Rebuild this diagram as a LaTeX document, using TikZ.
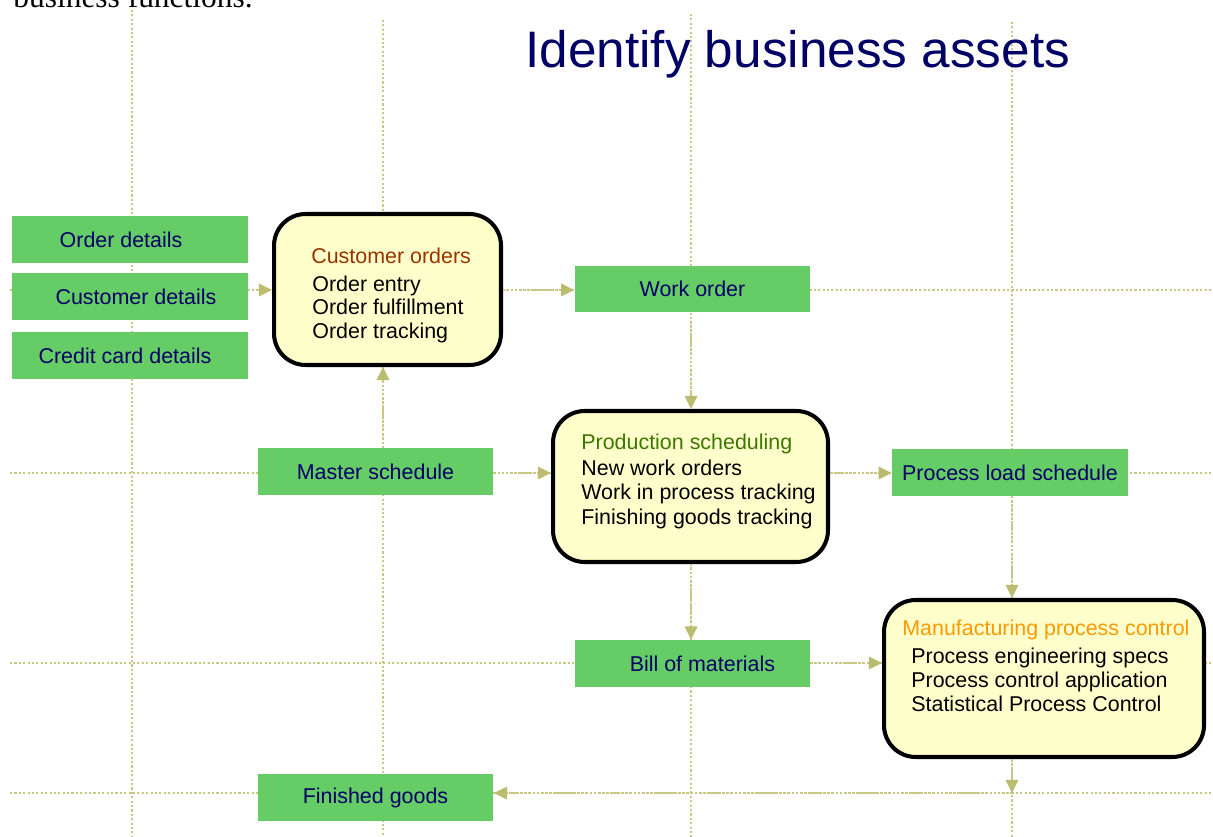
\documentclass[tikz,border=0pt]{standalone}
\usepackage{fontspec}
\setmainfont{Liberation Sans}
\newfontfamily\timesfont{Liberation Serif}
\usetikzlibrary{arrows.meta}
\definecolor{boxgreen}{RGB}{102,204,102}
\definecolor{navy}{RGB}{0,0,102}
\definecolor{paleyellow}{RGB}{255,255,204}
\definecolor{dotc}{RGB}{200,200,132}
\definecolor{arrc}{RGB}{188,188,112}
\definecolor{titlebrown}{RGB}{153,51,0}
\definecolor{titlegreen}{RGB}{60,120,0}
\definecolor{titleorange}{RGB}{255,153,0}
\begin{document}
\begin{tikzpicture}[x=0.02cm,y=-0.02cm,
  gbox/.style={fill=boxgreen, draw=none, minimum width=4.72cm, minimum height=0.94cm, inner sep=0pt, text=navy, font=\fontsize{12.2}{14}\selectfont},
  ybox/.style={fill=paleyellow, draw=black, line width=2.3pt, rounded corners=18pt, inner sep=0pt},
  ytext/.style={anchor=base west, inner sep=0pt, font=\fontsize{12.2}{14}\selectfont},
  gridline/.style={draw=dotc, line width=1.3pt, dash pattern=on 1.2pt off 1.3pt},
  flow/.style={draw=dotc, line width=1.4pt, dash pattern=on 1.2pt off 1.1pt, -{Triangle[length=7.5pt,width=7pt,color=arrc]}}]

\useasboundingbox (0,0) rectangle (1213,837);
\fill[white] (0,0) rectangle (1213,837);

% grid coordinates
\coordinate (v1) at (132,0);
\coordinate (v2) at (383,0);
\coordinate (v3) at (691,0);
\coordinate (v4) at (1012,0);
\coordinate (h1) at (0,290);
\coordinate (h2) at (0,473);
\coordinate (h3) at (0,663);
\coordinate (h4) at (0,793);
\coordinate (junc) at (1012,793);

% grid lines
\draw[gridline] (132,10) -- (132,837);
\draw[gridline] (383,20) -- (383,837);
\draw[gridline] (691,14) -- (691,837);
\draw[gridline] (1012,22) -- (1012,837);
\draw[gridline] (10,290) -- (1213,290);
\draw[gridline] (10,473) -- (1213,473);
\draw[gridline] (10,663) -- (1213,663);
\draw[gridline] (10,793) -- (1213,793);

% heading texts
\node[anchor=base west, inner sep=0pt, font=\timesfont\fontsize{17.9}{20}\selectfont] (bf) at (13,8) {business functions.};
\node[anchor=base west, inner sep=0pt, text=navy, font=\fontsize{29.2}{34}\selectfont] (title) at (525,68) {Identify business assets};

% green boxes
\node[gbox] (orderdet) at (130,239.5) {\hspace*{-10.2pt}Order details};
\node[gbox] (custdet) at (130,296.5) {Customer details\hspace*{-6.8pt}};
\node[gbox] (ccdet) at (130,355.5) {\hspace*{-5.7pt}Credit card details};
\node[gbox] (workorder) at (692.5,289) {Work order};
\node[gbox] (master) at (375.5,471.5) {Master schedule};
\node[gbox] (procload) at (1010,472.5) {Process load schedule};
\node[gbox] (billmat) at (692.5,663.5) {Bill of materials\hspace*{-11.3pt}};
\node[gbox] (finished) at (375.5,797.5) {Finished goods};

% yellow boxes
\node[ybox, minimum width=4.54cm, minimum height=3.02cm] (custord) at (387.5,289.5) {};
\node[ybox, minimum width=5.5cm, minimum height=3.02cm] (prodsched) at (690.5,486.5) {};
\node[ybox, minimum width=6.4cm, minimum height=3.14cm] (mfg) at (1044,678.5) {};

\node[ytext, text=titlebrown] (custordT) at (311,264) {Customer orders};
\node[ytext] (custordA) at (312,292) {Order entry};
\node[ytext] (custordB) at (312,315) {Order fulfillment};
\node[ytext] (custordC) at (312,339) {Order tracking};

\node[ytext, text=titlegreen] (prodT) at (581,450) {Production scheduling};
\node[ytext] (prodA) at (581,476) {New work orders};
\node[ytext] (prodB) at (581,500) {Work in process tracking};
\node[ytext] (prodC) at (581,524) {Finishing goods tracking};

\node[ytext, text=titleorange] (mfgT) at (902,635) {Manufacturing process control};
\node[ytext] (mfgA) at (911,663) {Process engineering specs};
\node[ytext] (mfgB) at (911,687) {Process control application};
\node[ytext] (mfgC) at (911,711) {Statistical Process Control};

% connectors
\draw[flow] (custdet.east |- h1) -- (custord.west |- h1);
\draw[flow] (custord.east |- h1) -- (workorder.west |- h1);
\draw[flow] (v3 |- workorder.south) -- (v3 |- prodsched.north);
\draw[flow] (master.east |- h2) -- (prodsched.west |- h2);
\draw[flow] (prodsched.east |- h2) -- (procload.west |- h2);
\draw[flow] (v4 |- procload.south) -- (v4 |- mfg.north);
\draw[flow] (v3 |- prodsched.south) -- (v3 |- billmat.north);
\draw[flow] (billmat.east |- h3) -- (mfg.west |- h3);
\draw[flow] (v2 |- master.north) -- (v2 |- custord.south);
\draw[flow] (v4 |- mfg.south) -- (junc);
\draw[flow] (junc) -- (finished.east |- h4);
\end{tikzpicture}
\end{document}
